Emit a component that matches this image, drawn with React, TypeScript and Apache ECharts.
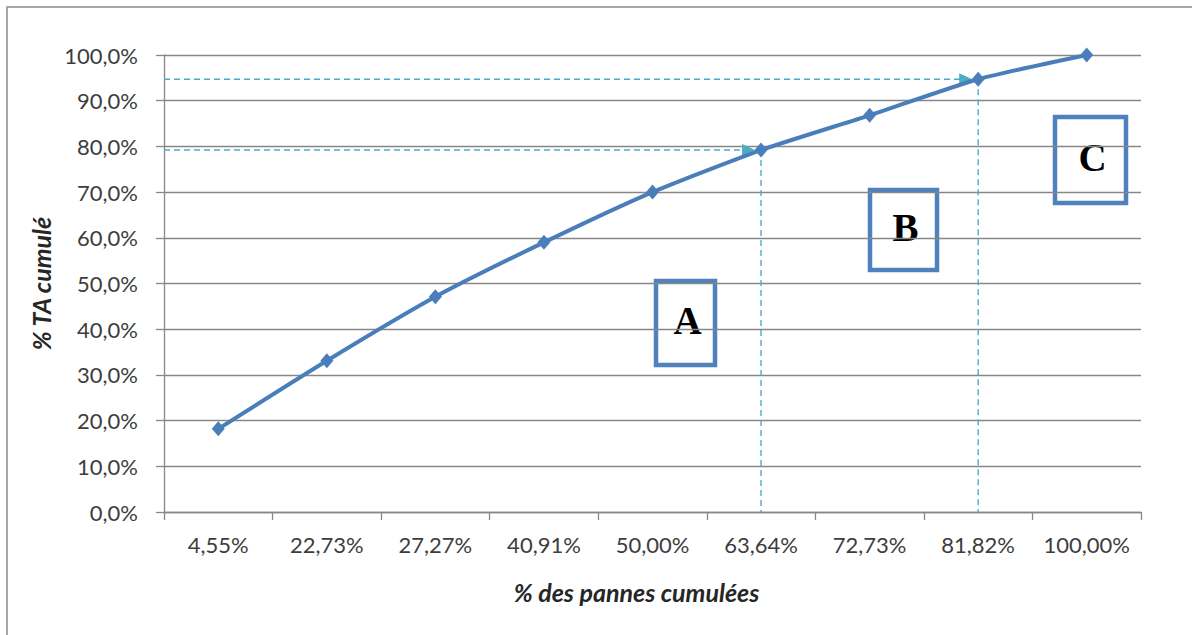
import React, { useEffect, useRef } from "react";
import * as echarts from "echarts";

const categories = ["4,55%", "22,73%", "27,27%", "40,91%", "50,00%", "63,64%", "72,73%", "81,82%", "100,00%"];
const cumulTA = [18.2, 33.1, 47.1, 59.0, 70.0, 79.2, 86.8, 94.7, 100];
const guideCategories = ["63,64%", "81,82%"];
const yTicks = { min: 0, max: 100, interval: 10 };
const zoneLabels = ["A", "B", "C"];

const GRID_COLOR = "#878787";
const LINE_COLOR = "#4a7ebb";
const GUIDE_COLOR = "#4bacc6";
const BOX_COLOR = "#4f81bd";
const LABEL_FONT = "Lato";

export default function App() {
  const ref = useRef<HTMLDivElement>(null);
  useEffect(() => {
    if (!ref.current) return;
    const chart = echarts.init(ref.current, null, { renderer: "svg" });
    const guideData = guideCategories.map((c) => [c, cumulTA[categories.indexOf(c)]]);
    const boxes = [
      { x: 656, y: 281, w: 59, h: 84 },
      { x: 870, y: 190, w: 67, h: 80 },
      { x: 1055, y: 117, w: 71, h: 86 },
    ];
    chart.setOption({
      animation: false,
      grid: { left: 164, right: 51, top: 55, bottom: 123, containLabel: false },
      xAxis: {
        type: "category",
        data: categories,
        boundaryGap: true,
        name: "% des pannes cumulées",
        nameLocation: "middle",
        nameGap: 67,
        nameTextStyle: {
          fontFamily: LABEL_FONT,
          fontSize: 25,
          fontWeight: "bold",
          fontStyle: "italic",
          color: "#262626",
          verticalAlign: "top",
          padding: [0, 32, 0, 0],
        },
        axisLine: { lineStyle: { color: GRID_COLOR, width: 1.3 } },
        axisTick: { show: true, length: 8, lineStyle: { color: GRID_COLOR, width: 1.3 } },
        axisLabel: { margin: 21, fontFamily: LABEL_FONT, fontSize: 22, color: "#3d3d3d", interval: 0 },
        splitLine: { show: false },
      },
      yAxis: {
        type: "value",
        min: yTicks.min,
        max: yTicks.max,
        interval: yTicks.interval,
        name: "% TA cumulé",
        nameLocation: "middle",
        nameRotate: 90,
        nameGap: 108,
        nameTextStyle: { fontFamily: LABEL_FONT, fontSize: 25, fontWeight: "bold", fontStyle: "italic", color: "#262626" },
        axisLine: { show: true, lineStyle: { color: GRID_COLOR, width: 1.3 } },
        axisTick: { show: true, length: 8, lineStyle: { color: GRID_COLOR, width: 1.3 } },
        axisLabel: {
          margin: 26,
          fontFamily: LABEL_FONT,
          fontSize: 22,
          color: "#3d3d3d",
          formatter: (v: number) => v.toFixed(1).replace(".", ",") + "%",
        },
        splitLine: { show: true, lineStyle: { color: GRID_COLOR, width: 1.3 } },
      },
      series: [
        {
          type: "custom",
          z: 1,
          data: guideData,
          renderItem: (params: any, api: any) => {
            const idx = api.value(0);
            const val = api.value(1);
            const p = api.coord([idx, val]);
            const base = api.coord([idx, 0]);
            const band = api.size([1, 0])[0];
            const x0 = api.coord([0, 0])[0] - band / 2;
            const dash = { stroke: GUIDE_COLOR, lineWidth: 1.4, lineDash: [6, 4] };
            return {
              type: "group",
              children: [
                { type: "line", shape: { x1: x0, y1: p[1], x2: p[0] - 16, y2: p[1] }, style: dash },
                {
                  type: "polygon",
                  shape: { points: [[p[0] - 19, p[1] - 6], [p[0] - 6, p[1]], [p[0] - 19, p[1] + 6]] },
                  style: { fill: GUIDE_COLOR },
                },
                { type: "line", shape: { x1: p[0], y1: p[1], x2: p[0], y2: base[1] }, style: dash },
              ],
            };
          },
        },
        {
          type: "line",
          z: 3,
          data: cumulTA,
          smooth: 0.2,
          symbol: "diamond",
          symbolSize: [13, 15],
          itemStyle: { color: LINE_COLOR },
          lineStyle: { color: LINE_COLOR, width: 4 },
        },
      ],
      graphic: [
        {
          type: "rect",
          shape: { x: 7, y: 7, width: 1300, height: 800 },
          style: { fill: "none", stroke: "#8c8c8c", lineWidth: 1.5 },
          silent: true,
          z: 0,
        },
        ...boxes.map((b, i) => ({
          type: "group",
          z: 10,
          children: [
            {
              type: "rect",
              shape: { x: b.x, y: b.y, width: b.w, height: b.h },
              style: { fill: "#ffffff", stroke: BOX_COLOR, lineWidth: 4.5 },
            },
            {
              type: "text",
              x: b.x + b.w / 2 + 2,
              y: b.y + b.h / 2 - 3,
              style: {
                text: zoneLabels[i],
                fontFamily: "Liberation Serif",
                fontWeight: "bold",
                fontSize: 39,
                fill: "#000000",
                align: "center",
                verticalAlign: "middle",
              },
            },
          ],
        })),
      ],
    });
    return () => chart.dispose();
  }, []);
  return <div ref={ref} style={{ position: "fixed", left: 0, top: 0, width: 1192, height: 635, background: "#ffffff" }} />;
}
